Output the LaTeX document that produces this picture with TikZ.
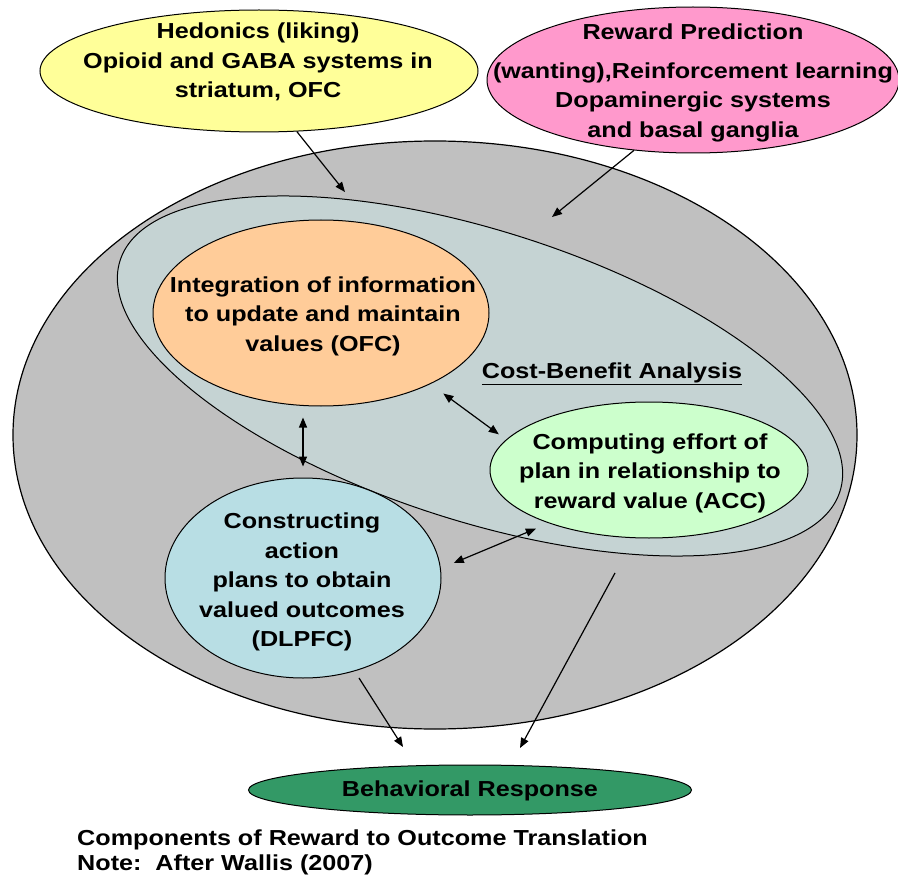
\documentclass[tikz,border=0pt]{standalone}
\usepackage{fontspec}
\setmainfont{Liberation Sans}[FakeStretch=1.16]
\usetikzlibrary{shapes.geometric,arrows.meta}
\definecolor{yel}{RGB}{255,255,153}
\definecolor{pnk}{RGB}{255,153,204}
\definecolor{gry}{RGB}{192,192,192}
\definecolor{cbaf}{RGB}{197,211,211}
\definecolor{org}{RGB}{255,204,153}
\definecolor{grn}{RGB}{204,255,204}
\definecolor{blu}{RGB}{184,222,228}
\definecolor{dgr}{RGB}{51,153,102}
\begin{document}
\begin{tikzpicture}[x=1pt,y=-1pt,
  blob/.style={ellipse, draw=black, line width=1pt, inner sep=0pt},
  txt/.style={align=center, font=\fontsize{21.7}{29.5}\selectfont\bfseries, inner sep=0pt},
  arr/.style={line width=1.2pt, -{Triangle[length=10pt,width=8pt]}},
  darr/.style={line width=1.2pt, {Triangle[length=10pt,width=8pt]}-{Triangle[length=10pt,width=8pt]}}]
\path[use as bounding box, fill=white] (0,0) rectangle (898,880);

% outer grey region
\node[blob, fill=gry, line width=1.2pt, minimum width=844pt, minimum height=588pt] (big) at (435,435) {};
% cost-benefit region
\node[blob, fill=cbaf, rotate=-17.8, minimum width=756pt, minimum height=290pt] (cba) at (480,376) {};
\node[txt] (cbat) at (612,374) {\underline{Cost-Benefit Analysis}};

% inner ellipses
\node[blob, fill=org, minimum width=336pt, minimum height=186pt] (ofc) at (321,313) {};
\node[txt] (ofct) at (323,316) {Integration of information\\to update and maintain\\values (OFC)};

\node[blob, fill=grn, minimum width=318pt, minimum height=136pt] (acc) at (649,470) {};
\node[txt] (acct) at (650,473) {Computing effort of\\plan in relationship to\\reward value (ACC)};

\node[blob, fill=blu, minimum width=276pt, minimum height=200pt] (dlpfc) at (303,578) {};
\node[txt] (dlpfct) at (302,582) {Constructing\\action\\plans to obtain\\valued outcomes\\(DLPFC)};

% top ellipses
\node[blob, fill=yel, minimum width=438pt, minimum height=122pt] (hed) at (259,71) {};
\node[txt] (hedt) at (258,62) {Hedonics (liking)\\Opioid and GABA systems in\\striatum, OFC};

\node[blob, fill=pnk, minimum width=412pt, minimum height=146pt] (rp) at (693,80) {};
\node[txt] (rpt) at (693,83) {Reward Prediction\\[9pt](wanting),Reinforcement learning\\Dopaminergic systems\\and basal ganglia};

% behavioral response
\node[blob, fill=dgr, minimum width=443pt, minimum height=50pt] (beh) at (470,790) {};
\node[txt] (beht) at (470,791) {Behavioral Response};

% caption
\node[txt, anchor=base west] (cap1) at (77,845) {Components of Reward to Outcome Translation};
\node[txt, anchor=base west] (cap2) at (77,870) {Note:\ \ After Wallis (2007)};

% connectors
\coordinate (e1) at (345,192);
\coordinate (e2) at (552,217);
\coordinate (b1) at (403,747);
\coordinate (g1) at (615,573);
\coordinate (b2) at (520,748);
\draw[arr] (hed.-58) -- (e1);
\draw[arr] (rp.-130.6) -- (e2);
\draw[darr, shorten <=16pt, shorten >=9pt] (ofc.-33.3) -- (acc.168.5);
\draw[darr, shorten <=11pt, shorten >=11pt] (ofc.south -| dlpfc.north) -- (dlpfc.north);
\draw[darr, shorten <=14pt, shorten >=14pt] (acc.208.2) -- (dlpfc.4.1);
\draw[arr, shorten <=8pt] (dlpfc.-61.4) -- (b1);
\draw[arr] (g1) -- (b2);
\end{tikzpicture}
\end{document}
